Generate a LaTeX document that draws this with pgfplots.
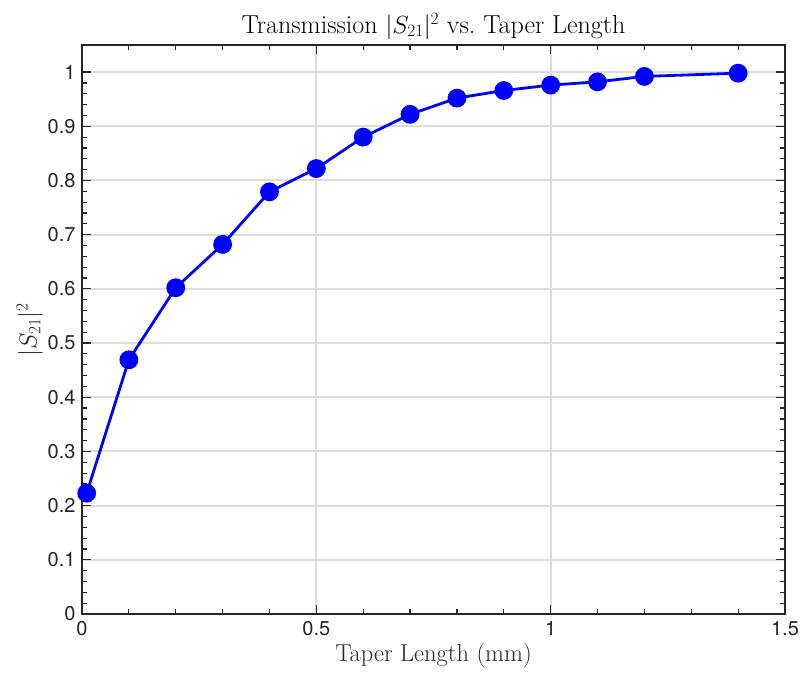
\documentclass[border=0pt]{standalone}
\usepackage{fontspec}
\usepackage{pgfplots}
\pgfplotsset{compat=1.18}
\newfontfamily\hel{TeX Gyre Heros}
\definecolor{axgray}{RGB}{38,38,38}
\definecolor{gridgray}{RGB}{220,220,220}
\begin{document}
\begin{tikzpicture}[x=1pt,y=1pt]
\begin{axis}[
  name=ax,
  scale only axis,
  width=703pt, height=569pt,
  xmin=0, xmax=1.5, ymin=0, ymax=1.05,
  xtick={0,0.5,1,1.5},
  ytick={0,0.1,0.2,0.3,0.4,0.5,0.6,0.7,0.8,0.9,1},
  xticklabels={0,0.5,1,1.5},
  yticklabels={0,0.1,0.2,0.3,0.4,0.5,0.6,0.7,0.8,0.9,1},
  minor x tick num=4,
  minor y tick num=4,
  tick align=inside,
  tick pos=both,
  major tick length=9pt,
  minor tick length=5pt,
  every tick/.style={axgray, line width=1.2pt},
  axis line style={axgray, line width=1.8pt},
  grid=major,
  major grid style={gridgray, line width=2pt},
  ticklabel style={font=\fontsize{20}{23}\hel, text=axgray},
  xticklabel style={yshift=-4pt},
  yticklabel style={xshift=-3pt},
  title={Transmission $|S_{21}|^2$ vs.\ Taper Length},
  title style={font=\fontsize{26}{30}\selectfont, yshift=-4pt},
  xlabel={Taper Length (mm)},
  ylabel={$|S_{21}|^2$},
  label style={font=\fontsize{24.5}{29}\selectfont, text=axgray},
  xlabel style={yshift=0pt},
  ylabel style={yshift=-2pt},
]
\addplot[blue, line width=2.8pt, mark=*, mark size=8pt, mark options={solid, fill=blue, draw=none}]
coordinates {
(0.01,0.223) (0.1,0.469) (0.2,0.602) (0.3,0.682) (0.4,0.779) (0.5,0.822)
(0.6,0.880) (0.7,0.922) (0.8,0.952) (0.9,0.966) (1.0,0.976) (1.1,0.982)
(1.2,0.992) (1.4,0.998)
};
\end{axis}
\pgfresetboundingbox
\path ([shift={(-82pt,-63pt)}]ax.south west) rectangle ([shift={(18pt,45pt)}]ax.north east);
\end{tikzpicture}
\end{document}
